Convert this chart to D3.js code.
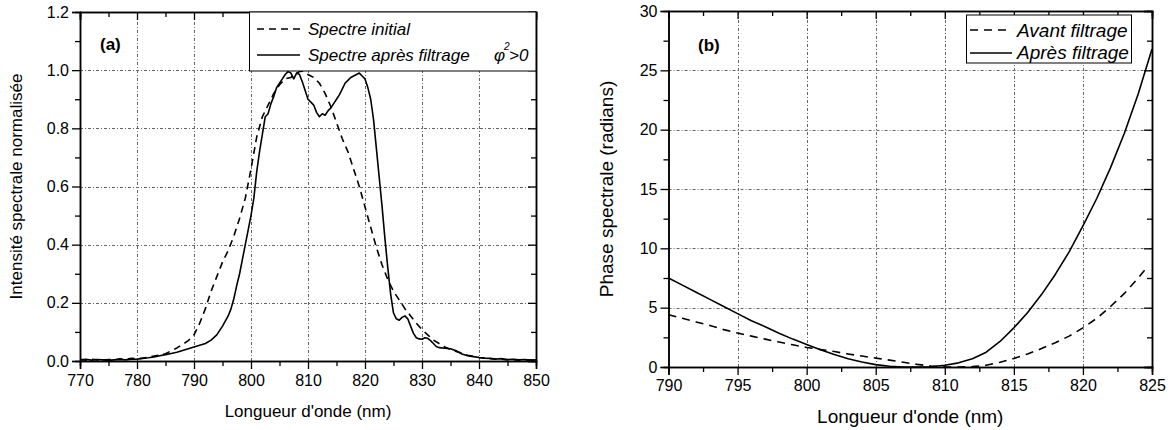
<!DOCTYPE html>
<html><head><meta charset="utf-8">
<script src="https://cdn.jsdelivr.net/npm/d3@7"></script>
<style>
body{margin:0;background:#fff;}
svg{display:block;font-family:"Liberation Sans",Arial,sans-serif;}
</style></head>
<body><svg id="c" width="1173" height="430"></svg>
<script>
// ---------- Panel (a) data ----------
const waveA = [770,771,772,773,774,775,776,777,778,779,780,781,782,783,784,785,786,787,788,789,790,791,792,793,794,795,796,797,798,799,800,801,802,803,804,805,806,807,807.5,808,808.5,809,809.5,810,810.5,811,811.5,812,813,814,815,816,817,818,819,820,821,822,823,824,825,826,827,828,829,830,831,832,833,834,835,836,837,838,839,840,841,842,843,844,845,846,847,848,849,850];
const spectreInitial = [0.005,0.003,0.006,0.004,0.003,0.005,0.004,0.008,0.006,0.009,0.008,0.010,0.013,0.017,0.020,0.025,0.035,0.045,0.057,0.070,0.090,0.130,0.180,0.240,0.290,0.340,0.380,0.430,0.490,0.560,0.660,0.770,0.840,0.880,0.920,0.950,0.970,0.975,0.985,0.990,0.995,0.997,0.990,0.985,0.980,0.975,0.965,0.955,0.920,0.875,0.820,0.765,0.720,0.660,0.600,0.530,0.460,0.390,0.330,0.280,0.240,0.210,0.180,0.155,0.130,0.108,0.090,0.072,0.060,0.048,0.040,0.033,0.027,0.020,0.016,0.012,0.010,0.008,0.006,0.006,0.004,0.005,0.003,0.004,0.003,0.004];
const waveB = [770,771,772,773,774,775,776,777,778,779,780,781,782,783,784,785,786,787,788,789,790,791,792,793,794,795,796,796.5,797,797.5,798,798.5,799,799.5,800,800.5,801,801.5,802,802.5,803,803.5,804,804.5,805,805.5,806,806.5,807,807.5,808,808.5,809,809.5,810,810.5,811,811.5,812,812.5,813,813.5,814,814.5,815,815.5,816,816.5,817,817.5,818,818.5,819,819.5,820,820.5,821,821.5,822,822.5,823,823.5,824,824.5,825,825.5,826,826.5,827,827.5,828,828.5,829,829.5,830,830.5,831,831.5,832,832.5,833,834,835,836,837,838,839,840,841,842,843,844,845,846,847,848,849,850];
const spectreFiltre = [0.004,0.006,0.003,0.005,0.004,0.002,0.004,0.005,0.004,0.006,0.006,0.009,0.011,0.014,0.018,0.022,0.026,0.030,0.036,0.042,0.048,0.054,0.060,0.072,0.090,0.120,0.155,0.180,0.215,0.260,0.300,0.350,0.400,0.450,0.500,0.560,0.650,0.720,0.780,0.840,0.850,0.885,0.910,0.940,0.955,0.970,0.985,0.995,0.990,0.970,0.990,0.985,0.960,0.930,0.900,0.890,0.880,0.855,0.840,0.850,0.845,0.860,0.870,0.885,0.900,0.915,0.935,0.955,0.965,0.975,0.980,0.985,0.990,0.980,0.970,0.940,0.900,0.830,0.730,0.630,0.530,0.420,0.320,0.230,0.165,0.145,0.140,0.150,0.155,0.145,0.120,0.095,0.080,0.076,0.075,0.080,0.078,0.070,0.060,0.050,0.046,0.044,0.042,0.035,0.024,0.018,0.015,0.012,0.010,0.009,0.007,0.008,0.005,0.006,0.004,0.005,0.003,0.004];
const ticksAx = [770,780,790,800,810,820,830,840,850];
const ticksAy = [0.0,0.2,0.4,0.6,0.8,1.0,1.2];

// ---------- Panel (b) data ----------
const waveAvant = [790,791,792,793,794,795,796,797,798,799,800,801,802,803,804,805,806,807,808,809,810,811,812,813,814,815,816,817,818,819,820,821,822,823,824,824.5];
const phaseAvant = [4.4,4.1,3.8,3.5,3.15,2.86,2.6,2.35,2.1,1.87,1.65,1.48,1.3,1.1,0.92,0.75,0.58,0.4,0.22,0.08,0.01,0.0,0.03,0.15,0.4,0.72,1.1,1.55,2.05,2.6,3.3,4.1,5.1,6.2,7.5,8.2];
const waveApres = [790,791,792,793,794,795,796,797,798,799,800,801,802,803,804,805,806,807,808,809,810,811,812,813,814,815,816,817,818,819,820,821,822,823,824,825];
const phaseApres = [7.5,6.9,6.3,5.7,5.1,4.5,3.9,3.4,2.85,2.35,1.9,1.45,1.05,0.7,0.42,0.2,0.06,0.0,0.0,0.02,0.15,0.35,0.7,1.25,2.15,3.3,4.6,6.1,7.8,9.7,11.9,14.2,16.8,19.7,23.0,26.8];
const ticksBx = [790,795,800,805,810,815,820,825];
const ticksBy = [0,5,10,15,20,25,30];

const FONT = '"Liberation Sans",Arial,sans-serif';
const svg = d3.select('#c');

function panel(o){
  const g = svg.append('g');
  const x = d3.scaleLinear().domain(o.xd).range([o.x0,o.x1]);
  const y = d3.scaleLinear().domain(o.yd).range([o.y0,o.y1]);
  // grid
  const grid = g.append('g').attr('stroke','#666').attr('stroke-width',1).attr('stroke-dasharray','3,2,1,2');
  grid.selectAll('line.v').data(o.xt.slice(1,-1)).join('line')
    .attr('x1',d=>Math.round(x(d))+0.5).attr('x2',d=>Math.round(x(d))+0.5).attr('y1',o.y0).attr('y2',o.y1);
  grid.selectAll('line.h').data(o.yt.slice(1,-1)).join('line')
    .attr('y1',d=>Math.round(y(d))+0.5).attr('y2',d=>Math.round(y(d))+0.5).attr('x1',o.x0).attr('x2',o.x1);

  const style = (sel,fs)=>{ sel.select('.domain').attr('stroke','#000').attr('stroke-width',1.5);
    sel.selectAll('.tick line').attr('stroke','#000').attr('stroke-width',1.3);
    sel.selectAll('text').attr('font-family',FONT).attr('font-size',fs).attr('fill','#000'); };

  // minor ticks
  g.append('g').attr('transform',`translate(0,${o.y0})`).call(d3.axisBottom(x).tickValues(o.xm).tickSize(5).tickFormat('')).call(s=>style(s,16));
  g.append('g').attr('transform',`translate(${o.x0},0)`).call(d3.axisLeft(y).tickValues(o.ym).tickSize(5).tickFormat('')).call(s=>style(s,16));
  g.append('g').attr('transform',`translate(0,${o.y1})`).call(d3.axisTop(x).tickValues(o.xm).tickSize(-5).tickFormat('')).call(s=>style(s,16));
  g.append('g').attr('transform',`translate(${o.x1},0)`).call(d3.axisRight(y).tickValues(o.ym).tickSize(-5).tickFormat('')).call(s=>style(s,16));
  // major
  g.append('g').attr('transform',`translate(0,${o.y0})`).call(d3.axisBottom(x).tickValues(o.xt).tickSize(8).tickPadding(o.xpad).tickFormat(d3.format('d'))).call(s=>style(s,16));
  g.append('g').attr('transform',`translate(${o.x0},0)`).call(d3.axisLeft(y).tickValues(o.yt).tickSize(8).tickPadding(3).tickFormat(o.yf)).call(s=>style(s,16));
  g.append('g').attr('transform',`translate(0,${o.y1})`).call(d3.axisTop(x).tickValues(o.xt).tickSize(-8).tickFormat('')).call(s=>style(s,16));
  g.append('g').attr('transform',`translate(${o.x1},0)`).call(d3.axisRight(y).tickValues(o.yt).tickSize(-8).tickFormat('')).call(s=>style(s,16));

  const line = d3.line().x(d=>x(d[0])).y(d=>y(d[1]));
  o.series.forEach(s=>{
    g.append('path').datum(d3.zip(s.x,s.y)).attr('d',line).attr('fill','none')
      .attr('stroke','#000').attr('stroke-width',1.6).attr('stroke-dasharray',s.dash||null).attr('stroke-linejoin','round');
  });
  // axis titles
  g.append('text').attr('x',(o.x0+o.x1)/2).attr('y',o.xty).attr('text-anchor','middle')
    .attr('font-family',FONT).attr('font-size',o.tfs).text(o.xtitle);
  g.append('text').attr('transform',`translate(${o.ytx},${(o.y0+o.y1)/2}) rotate(-90)`).attr('text-anchor','middle')
    .attr('font-family',FONT).attr('font-size',o.tfs).text(o.ytitle);
  // panel label
  g.append('text').attr('x',o.lab[0]).attr('y',o.lab[1]).attr('font-family',FONT).attr('font-weight','bold')
    .attr('font-size',17).text(o.label);
  // legend
  const L = o.leg;
  g.append('rect').attr('x',L.x).attr('y',L.y).attr('width',L.w).attr('height',L.h).attr('fill','#fff').attr('stroke','#000').attr('stroke-width',1);
  L.items.forEach((it,i)=>{
    const yy = L.ly[i];
    g.append('line').attr('x1',L.sx0).attr('x2',L.sx1).attr('y1',yy).attr('y2',yy).attr('stroke','#000')
      .attr('stroke-width',1.6).attr('stroke-dasharray',it.dash||null);
    const t = g.append('text').attr('x',L.tx).attr('y',L.ty[i]).attr('font-family',FONT).attr('font-style','italic').attr('font-size',L.fs);
    t.append('tspan').text(it.text);
    if(it.phi){
      const b = L.ty[i];
      g.append('text').attr('x',it.phi[0]).attr('y',b).attr('font-family',FONT).attr('font-style','italic').attr('font-size',L.fs).text('φ');
      g.append('text').attr('x',it.phi[1]).attr('y',b-11).attr('font-family',FONT).attr('font-style','italic').attr('font-size',10).text('2');
      g.append('text').attr('x',it.phi[2]).attr('y',b).attr('font-family',FONT).attr('font-style','italic').attr('font-size',L.fs).text('>0');
    }
  });
  return {x,y};
}

panel({
  xd:[770,850], yd:[0,1.2], x0:80, x1:536, y0:361, y1:12,
  xt:ticksAx, yt:ticksAy, xm:d3.range(775,850,10), ym:d3.range(0.1,1.2,0.2),
  yf:d3.format('.1f'), xpad:6,
  series:[{x:waveA,y:spectreInitial,dash:'7,5'},{x:waveB,y:spectreFiltre}],
  xtitle:"Longueur d'onde (nm)", ytitle:'Intensité spectrale normalisée', tfs:17, xty:417, ytx:22,
  label:'(a)', lab:[100,50],
  leg:{x:249.5,y:12,w:286.5,h:59,fs:17,sx0:257,sx1:300,tx:308,ly:[29,55],ty:[35,61],
       items:[{text:'Spectre initial',dash:'7,5'},{text:'Spectre après filtrage',phi:[494,504,509]}]}
});

panel({
  xd:[790,825], yd:[0,30], x0:668.5, x1:1152, y0:367, y1:11,
  xt:ticksBx, yt:ticksBy, xm:d3.range(792.5,825,5), ym:d3.range(2.5,30,5),
  yf:d3.format('d'), xpad:5,
  series:[{x:waveAvant,y:phaseAvant,dash:'8,6'},{x:waveApres,y:phaseApres}],
  xtitle:"Longueur d'onde (nm)", ytitle:'Phase spectrale (radians)', tfs:19, xty:423, ytx:613,
  label:'(b)', lab:[698,51],
  leg:{x:966.5,y:15,w:165,h:48,fs:19,sx0:970,sx1:1012,tx:1017,ly:[30,53],ty:[37,59],
       items:[{text:'Avant filtrage',dash:'8,6'},{text:'Après filtrage'}]}
});
</script></body></html>
